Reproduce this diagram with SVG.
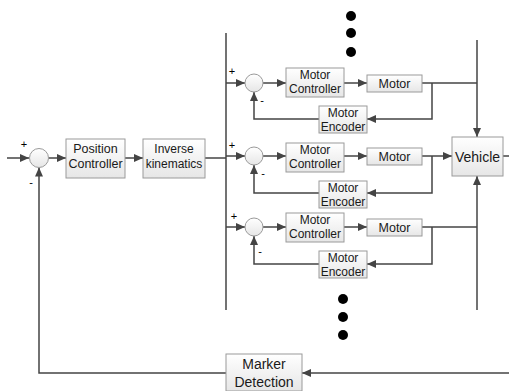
<svg xmlns="http://www.w3.org/2000/svg" width="509" height="391" viewBox="0 0 509 391">
<style>
.box{fill:url(#g);stroke:#9a9a9a;stroke-width:1}
.sum{fill:url(#g);stroke:#9a9a9a;stroke-width:1}
.ln{fill:none;stroke:#444;stroke-width:1.5}
.ar{marker-end:url(#a)}
text{font-family:"Liberation Sans",Arial,sans-serif;fill:#1a1a1a;text-anchor:middle}
.t12{font-size:12px}
.t13{font-size:12.5px}
.t14{font-size:14px}
.sg{font-size:11px;fill:#000}
.dot{fill:#000}
</style>
<defs>
<linearGradient id="g" x1="0" y1="0" x2="0" y2="1">
<stop offset="0" stop-color="#ffffff"/>
<stop offset="1" stop-color="#e6e6e6"/>
</linearGradient>
<marker id="a" markerWidth="10" markerHeight="9" refX="9" refY="4" orient="auto" markerUnits="userSpaceOnUse">
<path d="M0,0 L9,4 L0,8 z" fill="#444"/>
</marker>
</defs>
<g id="connectors">
<path class="ln ar" d="M7,158 H29"/>
<path class="ln ar" d="M48.5,158 H66"/>
<path class="ln ar" d="M125,158 H143"/>
<path class="ln" d="M205,158 H226"/>
<path class="ln" d="M226,33 V310"/>
<path class="ln ar" d="M226,83 H245"/>
<path class="ln ar" d="M263,83 H286"/>
<path class="ln ar" d="M344,83 H367"/>
<path class="ln" d="M422,83 H477"/>
<path class="ln ar" d="M432,83 V119 H367"/>
<path class="ln ar" d="M319,119 H254 V92"/>
<path class="ln ar" d="M226,156 H245"/>
<path class="ln ar" d="M263,156 H286"/>
<path class="ln ar" d="M344,156 H367"/>
<path class="ln ar" d="M422,156 H452"/>
<path class="ln ar" d="M432,156 V193 H367"/>
<path class="ln ar" d="M319,193 H254 V165"/>
<path class="ln ar" d="M226,227 H245"/>
<path class="ln ar" d="M263,227 H286"/>
<path class="ln ar" d="M344,227 H367"/>
<path class="ln" d="M422,227 H477"/>
<path class="ln ar" d="M432,227 V264 H367"/>
<path class="ln ar" d="M319,264 H254 V236"/>
<path class="ln ar" d="M477,40 V137"/>
<path class="ln ar" d="M477,310 V176"/>
<path class="ln" d="M503,156 H509"/>
<path class="ln ar" d="M509,373 H302"/>
<path class="ln ar" d="M226,373 H39 V167.5"/>
</g>
<g id="sum0"><circle class="sum" cx="39" cy="158" r="9.5"/><text class="sg" x="24" y="148">+</text><text class="sg" x="31" y="186">-</text></g>
<g id="pos-ctrl"><rect class="box" x="66" y="139" width="59" height="39"/><text class="t13" x="95.5" y="153">Position</text><text class="t13" x="95.5" y="168">Controller</text></g>
<g id="inv-kin"><rect class="box" x="143" y="139" width="62" height="39"/><text class="t12" x="174" y="153">Inverse</text><text class="t12" x="174" y="168">kinematics</text></g>
<g id="sum1"><circle class="sum" cx="254" cy="83" r="9"/><text class="sg" x="232" y="75">+</text><text class="sg" x="262" y="104">-</text></g>
<g id="mc1"><rect class="box" x="286" y="68" width="58" height="29"/><text class="t12" x="315" y="79">Motor</text><text class="t12" x="315" y="93">Controller</text></g>
<g id="m1"><rect class="box" x="367" y="75" width="55" height="17"/><text class="t13" x="394.5" y="88">Motor</text></g>
<g id="me1"><rect class="box" x="319" y="106" width="48" height="27"/><text class="t12" x="343" y="117">Motor</text><text class="t12" x="343" y="131">Encoder</text></g>
<g id="sum2"><circle class="sum" cx="254" cy="156" r="9"/><text class="sg" x="232" y="149">+</text><text class="sg" x="263" y="177">-</text></g>
<g id="mc2"><rect class="box" x="286" y="143" width="58" height="29"/><text class="t12" x="315" y="154">Motor</text><text class="t12" x="315" y="168">Controller</text></g>
<g id="m2"><rect class="box" x="367" y="148" width="55" height="17"/><text class="t13" x="394.5" y="161">Motor</text></g>
<g id="me2"><rect class="box" x="319" y="181" width="48" height="27"/><text class="t12" x="343" y="192">Motor</text><text class="t12" x="343" y="206">Encoder</text></g>
<g id="sum3"><circle class="sum" cx="254" cy="227" r="9"/><text class="sg" x="234" y="220">+</text><text class="sg" x="260" y="255">-</text></g>
<g id="mc3"><rect class="box" x="286" y="213" width="58" height="29"/><text class="t12" x="315" y="224">Motor</text><text class="t12" x="315" y="238">Controller</text></g>
<g id="m3"><rect class="box" x="367" y="219" width="55" height="17"/><text class="t13" x="394.5" y="232">Motor</text></g>
<g id="me3"><rect class="box" x="319" y="251" width="48" height="27"/><text class="t12" x="343" y="262">Motor</text><text class="t12" x="343" y="276">Encoder</text></g>
<g id="vehicle"><rect class="box" x="452" y="137" width="51" height="39"/><text class="t14" x="477.5" y="162">Vehicle</text></g>
<g id="marker"><rect class="box" x="226" y="354" width="76" height="37"/><text class="t14" x="264" y="369">Marker</text><text class="t14" x="264" y="387">Detection</text></g>
<g id="dots-top"><circle class="dot" cx="351" cy="16" r="5"/><circle class="dot" cx="351" cy="33" r="5"/><circle class="dot" cx="351" cy="52" r="5"/></g>
<g id="dots-bottom"><circle class="dot" cx="343" cy="299" r="5"/><circle class="dot" cx="343" cy="317" r="5"/><circle class="dot" cx="343" cy="335" r="5"/></g>
</svg>
